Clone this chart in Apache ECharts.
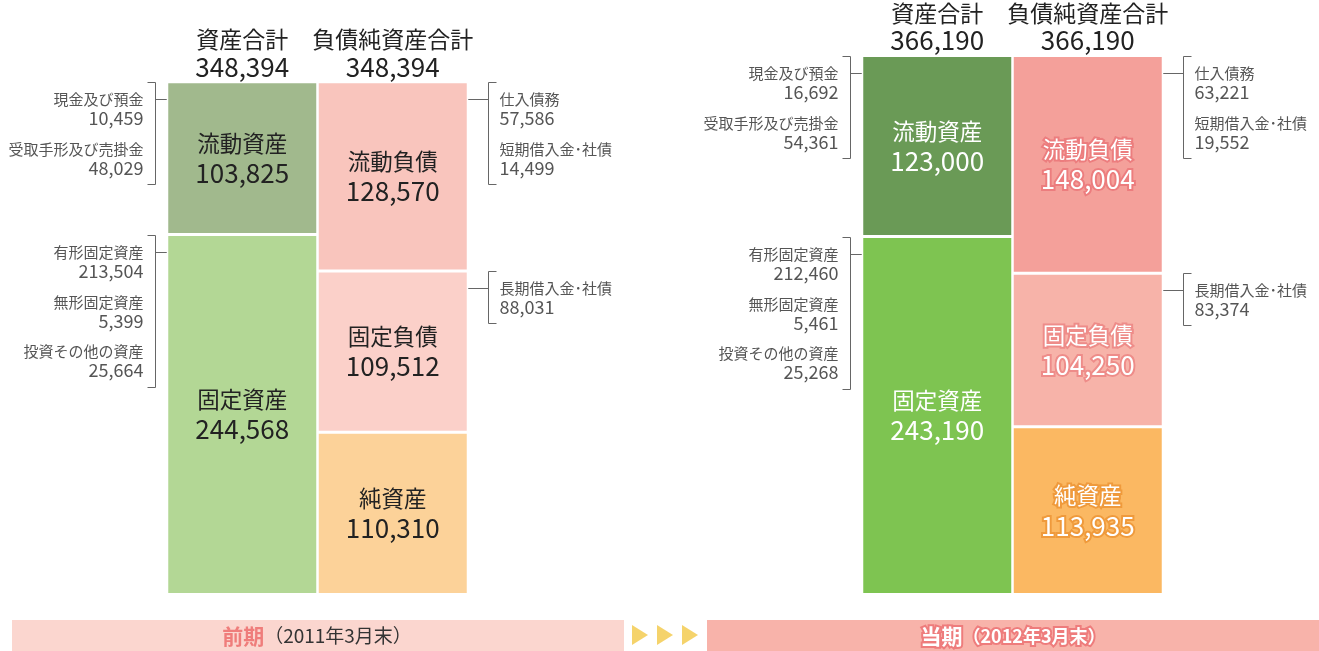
<!DOCTYPE html>
<html>
<head>
<meta charset="utf-8">
<script src="https://cdn.jsdelivr.net/npm/echarts@6/dist/echarts.min.js"></script>
<style>
html, body { margin: 0; padding: 0; background: #fff; }
#main { width: 1319px; height: 651px; }
</style>
</head>
<body>
<div id="main"></div>
<script>
// 貸借対照表（単位：百万円）
var columns = ['資産合計', '負債純資産合計'];
var periodNames = ['前期', '当期'];
var periodDates = ['（2011年3月末）', '（2012年3月末）'];

var currentAssets = [103825, 123000];
var fixedAssets = [244568, 243190];
var currentLiab = [128570, 148004];
var fixedLiab = [109512, 104250];
var netAssets = [110310, 113935];
var totals = [348394, 366190];

// 内訳
var cashDeposits = [10459, 16692];
var receivables = [48029, 54361];
var tangibleAssets = [213504, 212460];
var intangibleAssets = [5399, 5461];
var investments = [25664, 25268];
var payables = [57586, 63221];
var shortDebt = [14499, 19552];
var longDebt = [88031, 83374];

var FONT = '"Noto Sans CJK JP", "Noto Sans", sans-serif';
var colors = [
    { ca: '#a1b98d', fa: '#b3d795', cl: '#f9c5bd', fl: '#fbd0c9', na: '#fcd299' },
    { ca: '#6a9a56', fa: '#7ec451', cl: '#f4a09a', fl: '#f7b3a9', na: '#fbb862' }
];
// 文字色と縁取り（前期は黒文字、当期は白抜き）
var textStyles = [
    { ca: ['#222', null], fa: ['#222', null], cl: ['#222', null], fl: ['#222', null], na: ['#222', null] },
    { ca: ['#fff', null], fa: ['#fff', null], cl: ['#fff', '#ec7d7e'], fl: ['#fff', '#ee8c89'], na: ['#fff', '#ef9a3c'] }
];

function fmt(v) {
    return Number(v).toLocaleString('en-US');
}

function seg(p, key, name, data, withHeader) {
    var ts = textStyles[p][key];
    var rt = { color: ts[0], fontFamily: FONT };
    if (ts[1]) {
        rt.textBorderColor = ts[1];
        rt.textBorderWidth = 4;
    }
    var lbl = {
        show: true,
        position: 'inside',
        formatter: function (prm) {
            return '{n|' + prm.seriesName + '}\n{v|' + fmt(prm.value) + '}';
        },
        rich: {
            n: Object.assign({ fontSize: 22.5, lineHeight: 30 }, rt),
            v: Object.assign({ fontSize: 26, lineHeight: 30 }, rt)
        }
    };
    Object.assign(lbl, rt);
    var s = {
        type: 'bar',
        name: name,
        xAxisIndex: p,
        yAxisIndex: p,
        stack: 'bs' + p,
        barWidth: 151,
        data: data,
        itemStyle: { color: colors[p][key], borderColor: '#fff', borderWidth: 1.5 },
        label: lbl
    };
    if (withHeader != null) {
        s.markPoint = {
            symbol: 'rect',
            symbolSize: 1,
            silent: true,
            itemStyle: { color: 'rgba(0,0,0,0)' },
            label: {
                show: true,
                position: 'top',
                distance: 1,
                formatter: function (prm) {
                    return '{n|' + prm.name + '}\n{v|' + fmt(prm.value) + '}';
                },
                rich: {
                    n: { fontSize: 23, lineHeight: 27, color: '#222', fontFamily: FONT },
                    v: { fontSize: 26, lineHeight: 27, color: '#222', fontFamily: FONT }
                }
            },
            data: [{ name: columns[withHeader], coord: [columns[withHeader], totals[p]], value: totals[p] }]
        };
    }
    return s;
}

var maxTotal = Math.max.apply(null, totals);
var grids = [], xAxes = [], yAxes = [], series = [];
for (var p = 0; p < 2; p++) {
    grids.push({ left: p === 0 ? 167 : 862, width: 301, top: 55.5, bottom: 56.5 });
    xAxes.push({ gridIndex: p, type: 'category', data: columns, show: false });
    yAxes.push({ gridIndex: p, type: 'value', min: 0, max: maxTotal, show: false });
    series.push(seg(p, 'fa', '固定資産', [fixedAssets[p], '-']));
    series.push(seg(p, 'ca', '流動資産', [currentAssets[p], '-'], 0));
    series.push(seg(p, 'na', '純資産', ['-', netAssets[p]]));
    series.push(seg(p, 'fl', '固定負債', ['-', fixedLiab[p]]));
    series.push(seg(p, 'cl', '流動負債', ['-', currentLiab[p]], 1));
}

var chart = echarts.init(document.getElementById('main'));
chart.setOption({
    animation: false,
    grid: grids,
    xAxis: xAxes,
    yAxis: yAxes,
    series: series
});

// 内訳の注記（ブラケット）
var graphics = [];
function addNote(p, col, topValue, items) {
    var pt = chart.convertToPixel({ gridIndex: p }, [columns[col], topValue]);
    var cx = pt[0];
    var y0 = Math.round(pt[1]) + 0.5;
    var y1 = y0 + 50 * items.length + 2;
    var left = col === 0;
    var bx = Math.round(left ? cx - 87 : cx + 95) + 0.5;
    var tick = left ? -8 : 8;
    var lineStyle = { stroke: '#666', lineWidth: 1, fill: null };
    graphics.push({
        type: 'polyline',
        shape: { points: [[bx + tick, y0], [bx, y0], [bx, y1], [bx + tick, y1]] },
        style: lineStyle
    });
    graphics.push({
        type: 'line',
        shape: { x1: bx, y1: y0 + 17, x2: left ? cx - 61 : cx + 71, y2: y0 + 17 },
        style: lineStyle
    });
    var tx = left ? bx - 12 : bx + 11;
    for (var k = 0; k < items.length; k++) {
        var ny = y0 + 17 + k * 49.5;
        graphics.push({
            type: 'text', x: tx, y: ny,
            style: { text: items[k][0], fill: '#555', fontSize: 15, fontFamily: FONT, align: left ? 'right' : 'left', verticalAlign: 'middle' }
        });
        graphics.push({
            type: 'text', x: tx, y: ny + 19,
            style: { text: fmt(items[k][1]), fill: '#555', fontSize: 18, fontFamily: FONT, align: left ? 'right' : 'left', verticalAlign: 'middle' }
        });
    }
}

for (var q = 0; q < 2; q++) {
    addNote(q, 0, fixedAssets[q] + currentAssets[q], [['現金及び預金', cashDeposits[q]], ['受取手形及び売掛金', receivables[q]]]);
    addNote(q, 0, fixedAssets[q], [['有形固定資産', tangibleAssets[q]], ['無形固定資産', intangibleAssets[q]], ['投資その他の資産', investments[q]]]);
    addNote(q, 1, netAssets[q] + fixedLiab[q] + currentLiab[q], [['仕入債務', payables[q]], ['短期借入金･社債', shortDebt[q]]]);
    addNote(q, 1, netAssets[q] + fixedLiab[q], [['長期借入金･社債', longDebt[q]]]);
}

// 下部の期間帯
graphics.push({ type: 'rect', shape: { x: 12, y: 620, width: 612, height: 31 }, style: { fill: '#fbd6cf' } });
graphics.push({ type: 'rect', shape: { x: 707, y: 620, width: 612, height: 31 }, style: { fill: '#f8b3aa' } });
graphics.push({
    type: 'text', x: 317, y: 636,
    style: {
        text: '{a|' + periodNames[0] + '}{b|' + periodDates[0] + '}',
        align: 'center', verticalAlign: 'middle',
        rich: {
            a: { fontSize: 21, fontWeight: 'bold', fill: '#ef7d7b', fontFamily: FONT },
            b: { fontSize: 19, fill: '#333', fontFamily: FONT }
        }
    }
});
graphics.push({
    type: 'text', x: 1013, y: 636,
    style: {
        text: '{a|' + periodNames[1] + '}{b|' + periodDates[1] + '}',
        align: 'center', verticalAlign: 'middle',
        rich: {
            a: { fontSize: 21, fontWeight: 'bold', fill: '#fff', stroke: '#ee7c7c', lineWidth: 4, fontFamily: FONT },
            b: { fontSize: 18, fontWeight: 'bold', fill: '#fff', stroke: '#ee7c7c', lineWidth: 4, fontFamily: FONT }
        }
    }
});
var arrowX = [632, 657, 682];
for (var a = 0; a < arrowX.length; a++) {
    graphics.push({
        type: 'polygon',
        shape: { points: [[arrowX[a], 625], [arrowX[a] + 16, 635], [arrowX[a], 645]] },
        style: { fill: '#f5d36b' }
    });
}

chart.setOption({ graphic: graphics });
</script>
</body>
</html>
